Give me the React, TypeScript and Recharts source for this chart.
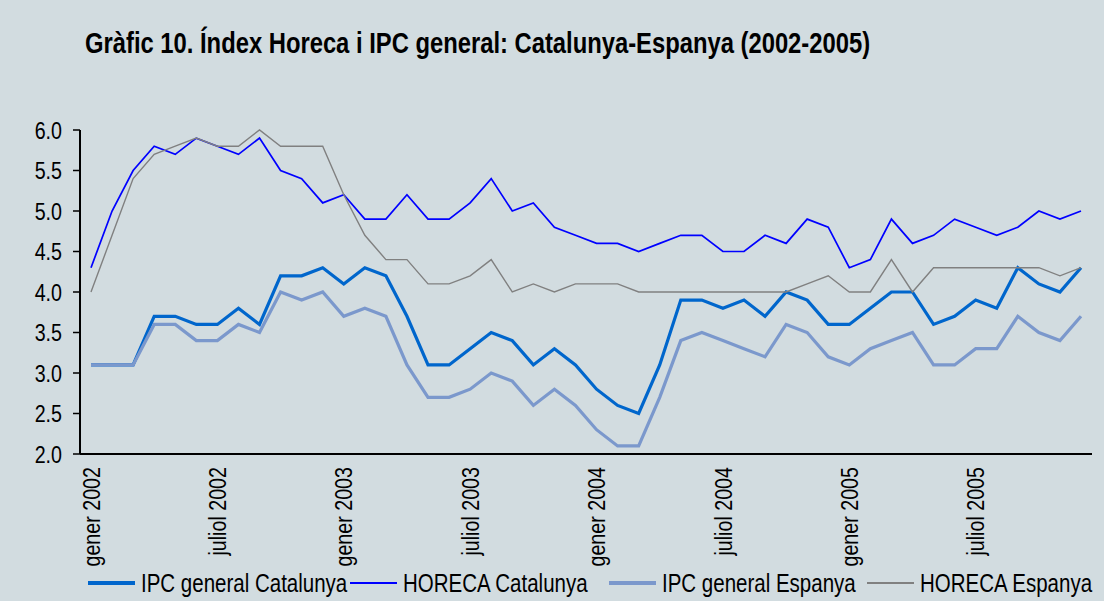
import React from 'react';
import { LineChart, Line, XAxis, YAxis, Legend } from 'recharts';

const MONTHS = ['gener', 'febrer', 'març', 'abril', 'maig', 'juny', 'juliol', 'agost', 'setembre', 'octubre', 'novembre', 'desembre'];
const YEARS = [2002, 2003, 2004, 2005];
const CATEGORIES = YEARS.flatMap((y) => MONTHS.map((m) => `${m} ${y}`));

const IPC_CAT = [
  3.1, 3.1, 3.1, 3.7, 3.7, 3.6, 3.6, 3.8, 3.6, 4.2, 4.2, 4.3,
  4.1, 4.3, 4.2, 3.7, 3.1, 3.1, 3.3, 3.5, 3.4, 3.1, 3.3, 3.1,
  2.8, 2.6, 2.5, 3.1, 3.9, 3.9, 3.8, 3.9, 3.7, 4.0, 3.9, 3.6,
  3.6, 3.8, 4.0, 4.0, 3.6, 3.7, 3.9, 3.8, 4.3, 4.1, 4.0, 4.3,
];
const HORECA_CAT = [
  4.3, 5.0, 5.5, 5.8, 5.7, 5.9, 5.8, 5.7, 5.9, 5.5, 5.4, 5.1,
  5.2, 4.9, 4.9, 5.2, 4.9, 4.9, 5.1, 5.4, 5.0, 5.1, 4.8, 4.7,
  4.6, 4.6, 4.5, 4.6, 4.7, 4.7, 4.5, 4.5, 4.7, 4.6, 4.9, 4.8,
  4.3, 4.4, 4.9, 4.6, 4.7, 4.9, 4.8, 4.7, 4.8, 5.0, 4.9, 5.0,
];
const IPC_ESP = [
  3.1, 3.1, 3.1, 3.6, 3.6, 3.4, 3.4, 3.6, 3.5, 4.0, 3.9, 4.0,
  3.7, 3.8, 3.7, 3.1, 2.7, 2.7, 2.8, 3.0, 2.9, 2.6, 2.8, 2.6,
  2.3, 2.1, 2.1, 2.7, 3.4, 3.5, 3.4, 3.3, 3.2, 3.6, 3.5, 3.2,
  3.1, 3.3, 3.4, 3.5, 3.1, 3.1, 3.3, 3.3, 3.7, 3.5, 3.4, 3.7,
];
const HORECA_ESP = [
  4.0, 4.7, 5.4, 5.7, 5.8, 5.9, 5.8, 5.8, 6.0, 5.8, 5.8, 5.8,
  5.2, 4.7, 4.4, 4.4, 4.1, 4.1, 4.2, 4.4, 4.0, 4.1, 4.0, 4.1,
  4.1, 4.1, 4.0, 4.0, 4.0, 4.0, 4.0, 4.0, 4.0, 4.0, 4.1, 4.2,
  4.0, 4.0, 4.4, 4.0, 4.3, 4.3, 4.3, 4.3, 4.3, 4.3, 4.2, 4.3,
];
const Y_TICKS = [2.0, 2.5, 3.0, 3.5, 4.0, 4.5, 5.0, 5.5, 6.0];

const SERIES = [
  { key: 'ipcCat', name: 'IPC general Catalunya', color: '#0066cc', width: 3.2 },
  { key: 'horecaCat', name: 'HORECA Catalunya', color: '#0000ff', width: 1.7 },
  { key: 'ipcEsp', name: 'IPC general Espanya', color: '#7b98cc', width: 3.2 },
  { key: 'horecaEsp', name: 'HORECA Espanya', color: '#808080', width: 1.4 },
];

const data = CATEGORIES.map((month, i) => ({
  month,
  ipcCat: IPC_CAT[i],
  horecaCat: HORECA_CAT[i],
  ipcEsp: IPC_ESP[i],
  horecaEsp: HORECA_ESP[i],
}));

// Arial Narrow is not installed: Liberation Sans squeezed horizontally
const FONT = "'Liberation Sans', Arial, sans-serif";
const NARROW = 0.82;
const BG = '#d2dce0';
const LEGEND_X = [88, 350, 609, 867];

const MonthTick = (props: any) => {
  const { x, y, payload } = props;
  return (
    <text
      transform={`translate(${x}, ${y + 5}) rotate(-90) scale(${NARROW}, 1)`}
      textAnchor="end"
      dy="0.36em"
      fill="#000"
      fontSize={24}
      fontFamily={FONT}
    >
      {payload.value}
    </text>
  );
};

const ValueTick = (props: any) => {
  const { x, y, payload } = props;
  return (
    <text
      transform={`translate(${x}, ${y}) scale(${NARROW}, 1)`}
      textAnchor="end"
      dy="0.36em"
      fill="#000"
      fontSize={24}
      fontFamily={FONT}
    >
      {payload.value.toFixed(1)}
    </text>
  );
};

const renderLegend = () => (
  <div style={{ position: 'relative', width: 1104, height: 30, fontFamily: FONT, fontSize: 25, lineHeight: '30px' }}>
    {SERIES.map((s, i) => (
      <React.Fragment key={s.key}>
        <span style={{ position: 'absolute', left: LEGEND_X[i], top: 15 - s.width / 2, width: 47, height: s.width, background: s.color }} />
        <span style={{ position: 'absolute', left: LEGEND_X[i] + 53, top: 0, color: '#000', whiteSpace: 'nowrap', transform: `scaleX(${NARROW})`, transformOrigin: 'left center' }}>
          {s.name}
        </span>
      </React.Fragment>
    ))}
  </div>
);

export default function App() {
  return (
    <div style={{ position: 'absolute', left: 0, top: 0, width: 1104, height: 601, background: BG, overflow: 'hidden' }}>
      <div style={{ position: 'absolute', left: 85, top: 27, fontFamily: FONT, fontWeight: 'bold', fontSize: 29, lineHeight: '32px', color: '#000', whiteSpace: 'nowrap', transform: `scaleX(${NARROW})`, transformOrigin: 'left center' }}>
        Gràfic 10. Índex Horeca i IPC general: Catalunya-Espanya (2002-2005)
      </div>
      <LineChart width={1104} height={601} data={data} margin={{ top: 130, right: 12, bottom: 37, left: 0 }}>
        <XAxis
          dataKey="month"
          interval={5}
          padding={{ left: 11, right: 11 }}
          tickLine={false}
          axisLine={{ stroke: '#000', strokeWidth: 2 }}
          tick={<MonthTick />}
          height={110}
        />
        <XAxis xAxisId="top" dataKey="month" orientation="top" height={0} tick={false} tickLine={false} axisLine={{ stroke: '#000', strokeWidth: 2 }} />
        <YAxis
          domain={[2, 6]}
          ticks={Y_TICKS}
          width={80}
          tickSize={7}
          tickMargin={11}
          axisLine={{ stroke: '#000', strokeWidth: 2 }}
          tickLine={{ stroke: '#000', strokeWidth: 1.5 }}
          tick={<ValueTick />}
        />
        <YAxis yAxisId="right" orientation="right" width={0} domain={[2, 6]} tick={false} tickLine={false} axisLine={{ stroke: '#000', strokeWidth: 2 }} />
        {SERIES.map((s) => (
          <Line
            key={s.key}
            type="linear"
            dataKey={s.key}
            name={s.name}
            stroke={s.color}
            strokeWidth={s.width}
            dot={false}
            activeDot={false}
            isAnimationActive={false}
          />
        ))}
        <Legend
          layout="horizontal"
          verticalAlign="middle"
          align="center"
          content={renderLegend}
          wrapperStyle={{ top: 568, left: 0, width: 1104 }}
        />
      </LineChart>
    </div>
  );
}
